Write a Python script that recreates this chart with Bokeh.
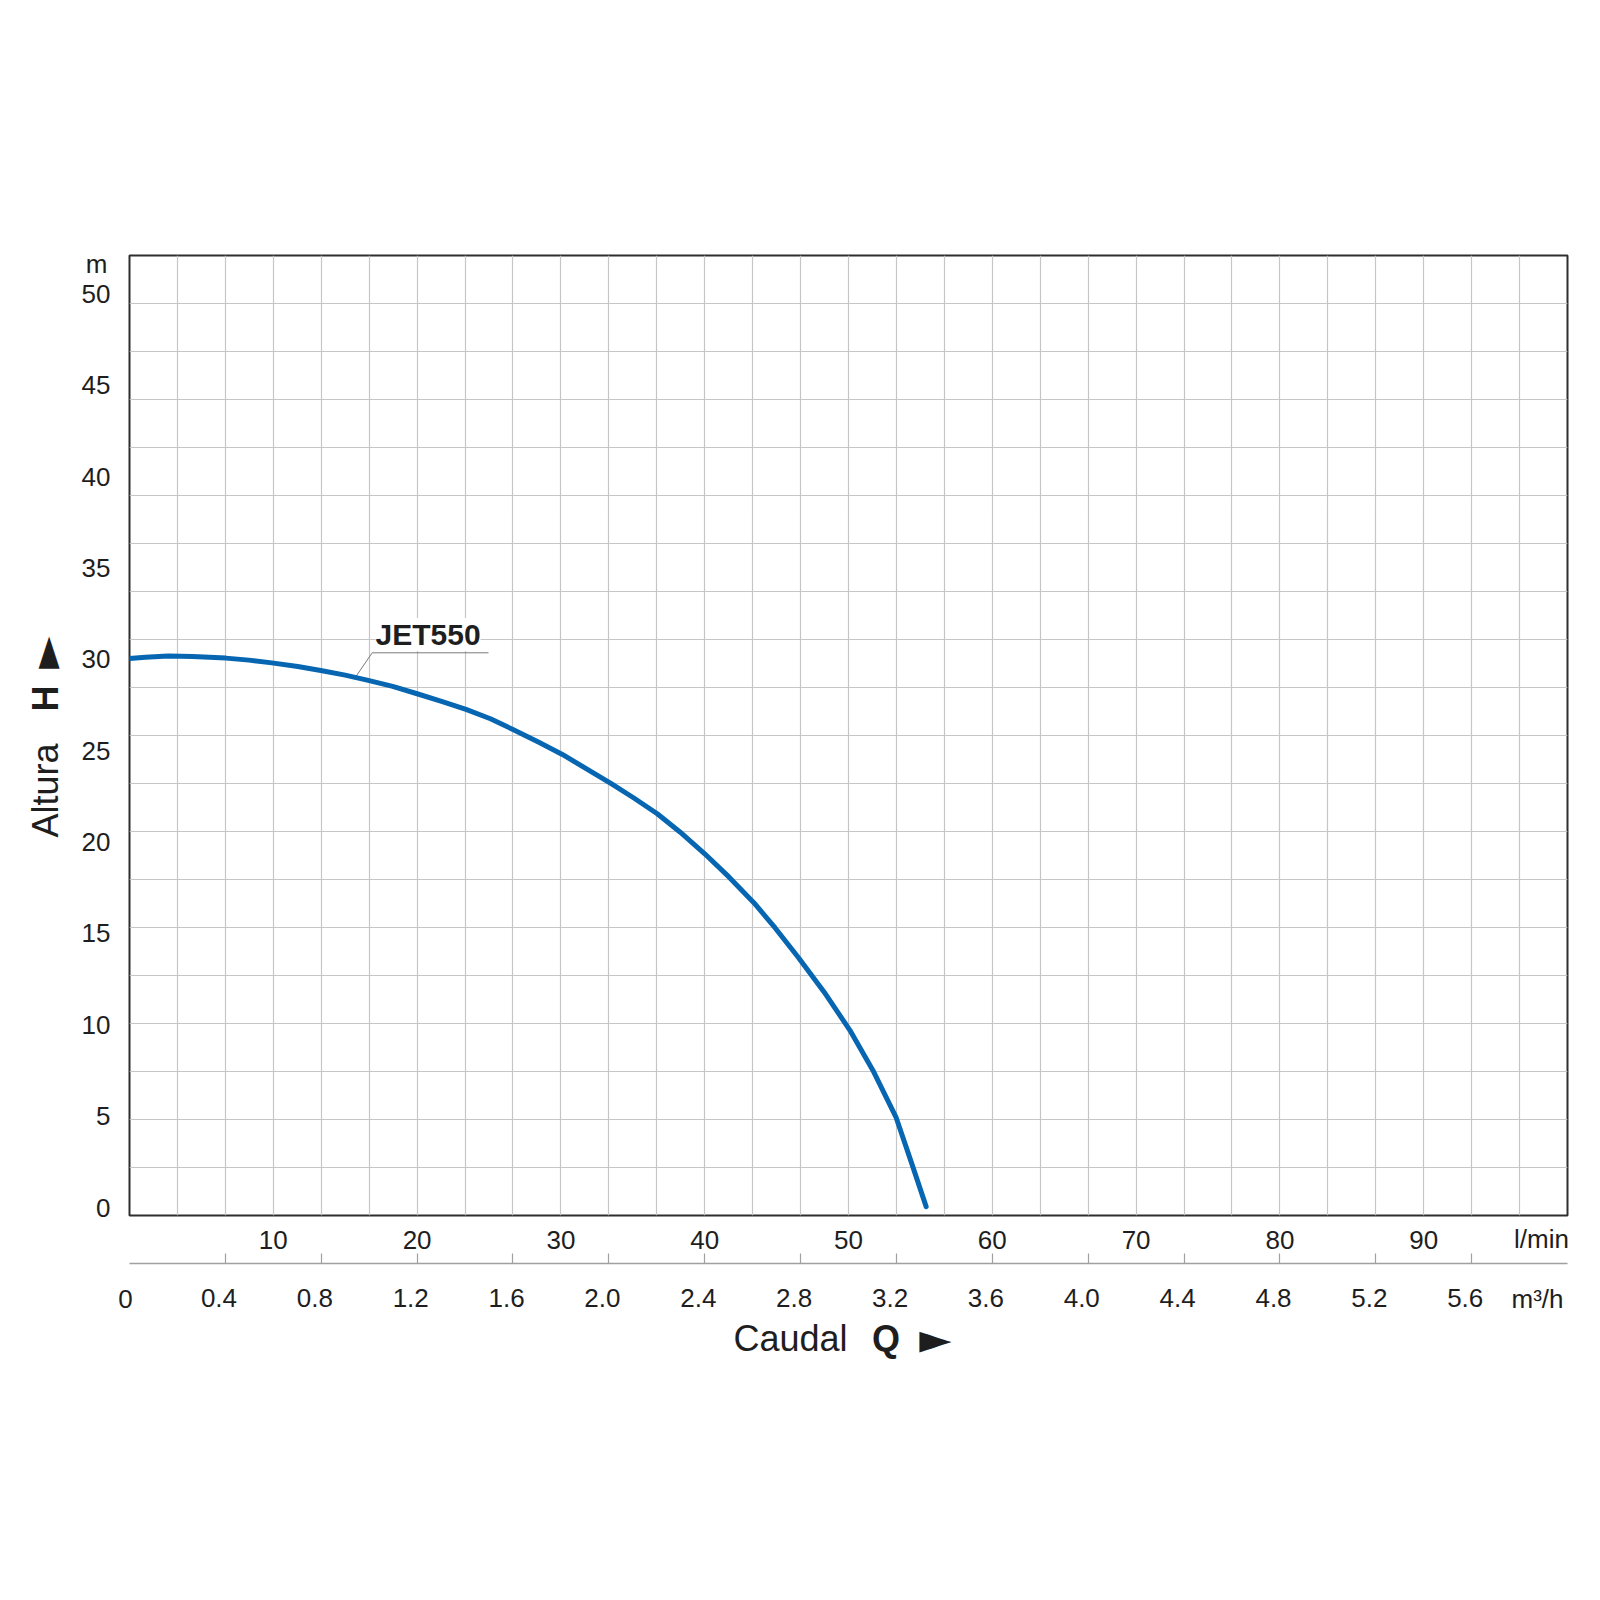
import numpy as np
from bokeh.plotting import figure
from bokeh.models import (Range1d, LinearAxis, FixedTicker, SingleIntervalTicker,
                          Grid, Label, NumeralTickFormatter)
from bokeh.embed import file_html
from bokeh.resources import INLINE

# ---------------- data ----------------
curve_name = "JET550"
flow_lpm = [0, 1.1, 2.7, 4.4, 6.7, 8.3, 9.9, 11.7, 13.3, 15.0, 16.6, 18.3, 20.0, 21.7,
            23.4, 25.1, 26.7, 28.5, 30.1, 33.5, 35.1, 36.7, 38.3, 40.0, 41.7, 43.4,
            44.9, 46.5, 48.3, 50.1, 51.7, 53.3, 54.4, 55.4]
head_m = [30.05, 30.12, 30.18, 30.16, 30.07, 29.96, 29.81, 29.61, 29.39, 29.14, 28.85,
          28.52, 28.12, 27.70, 27.26, 26.75, 26.15, 25.45, 24.8, 23.2, 22.4, 21.55,
          20.54, 19.36, 18.08, 16.7, 15.3, 13.7, 11.8, 9.7, 7.5, 4.95, 2.4, 0.05]

head_ticks = [0, 5, 10, 15, 20, 25, 30, 35, 40, 45, 50]
lpm_ticks = [10, 20, 30, 40, 50, 60, 70, 80, 90]
m3h_ticks = [0.4, 0.8, 1.2, 1.6, 2.0, 2.4, 2.8, 3.2, 3.6, 4.0, 4.4, 4.8, 5.2, 5.6]

# ---------------- layout helpers (page pixels -> data) ----------------
FONT = "Liberation Sans"
TXT = "#1e1e1e"
FRAME_L, FRAME_T, FRAME_W, FRAME_H = 129, 255, 1438, 960
XS = FRAME_W / 100.0          # px per l/min
Y0 = 1207.0                   # page y of H = 0
YS = 18.27                    # px per metre
M3H_LABEL_SHIFT = 6.4 * 6.0 / FRAME_W   # m3/h labels sit ~6px left of their ticks


def dx(px):
    return (px - FRAME_L) / XS


def dy(py):
    return (Y0 - py) / YS


p = figure(frame_width=FRAME_W, frame_height=FRAME_H,
           min_border_left=FRAME_L, min_border_top=FRAME_T,
           min_border_right=25, min_border_bottom=375,
           x_range=Range1d(0, 100), y_range=Range1d(dy(FRAME_T + FRAME_H), dy(FRAME_T)),
           x_axis_type=None, y_axis_type=None,
           output_backend="svg", toolbar_location=None)
p.background_fill_color = "white"
p.border_fill_color = "white"
p.outline_line_color = "#2e2e2e"
p.outline_line_width = 2

p.extra_x_ranges = {"gx": Range1d(0, 30), "m3h": Range1d(0, 6),
                    "m3h_lab": Range1d(M3H_LABEL_SHIFT, 6 + M3H_LABEL_SHIFT)}
p.extra_y_ranges = {"gy": Range1d(0, 20)}

p.add_layout(Grid(dimension=0, ticker=SingleIntervalTicker(interval=1), x_range_name="gx",
                  grid_line_color="#c6c6c6", grid_line_width=1.2))
p.add_layout(Grid(dimension=1, ticker=SingleIntervalTicker(interval=1), y_range_name="gy",
                  grid_line_color="#c6c6c6", grid_line_width=1.2))

common = dict(major_tick_line_color=None, minor_tick_line_color=None,
              major_tick_in=0, major_tick_out=0, minor_tick_in=0, minor_tick_out=0,
              major_label_text_font=FONT, major_label_text_font_size="26px",
              major_label_text_color=TXT)

yax = LinearAxis(ticker=FixedTicker(ticks=head_ticks), axis_line_color=None,
                 major_label_standoff=19, **common)
p.add_layout(yax, "left")

xax = LinearAxis(ticker=FixedTicker(ticks=lpm_ticks), axis_line_color=None,
                 major_label_standoff=15, axis_label=" ", axis_label_text_font_size="8px",
                 axis_label_standoff=0, **common)
p.add_layout(xax, "below")

# m3/h scale: line + ticks
mx_line = LinearAxis(x_range_name="m3h", ticker=FixedTicker(ticks=m3h_ticks),
                     axis_line_color="#a0a0a0", axis_line_width=1.5,
                     major_tick_line_color="#a0a0a0", major_tick_line_width=1.2,
                     major_tick_in=10, major_tick_out=0,
                     minor_tick_line_color=None, minor_tick_in=0, minor_tick_out=0,
                     major_label_standoff=0, major_label_text_font_size="0px",
                     major_label_text_color=None)
p.add_layout(mx_line, "below")

# m3/h scale: labels
mx_lab = LinearAxis(x_range_name="m3h_lab", ticker=FixedTicker(ticks=m3h_ticks),
                    formatter=NumeralTickFormatter(format="0.0"),
                    axis_line_color=None, major_label_standoff=25, **common)
p.add_layout(mx_lab, "below")

# ---------------- curve + label ----------------
anchor_q = 15.7
anchor_h = float(np.interp(anchor_q, flow_lpm, head_m))
p.line([anchor_q, dx(371.7), dx(488)], [anchor_h, dy(652.3), dy(652.3)],
       line_color="#7a7a7a", line_width=1)
p.line(flow_lpm, head_m, line_color="#0766b1", line_width=5, line_cap="round",
       line_join="round")

p.add_layout(Label(x=dx(375), y=dy(634), text=curve_name, text_font=FONT,
                   text_font_style="bold", text_font_size="30px", text_color=TXT,
                   text_align="left", text_baseline="middle",
                   background_fill_color="white", level="underlay"))


# ---------------- unit labels & titles (side panels, so they are not clipped) ----------------
def lab(side, x, y, text, size="26px", style="normal", align="center", angle=0.0, font=FONT):
    p.add_layout(Label(x=dx(x), y=dy(y), text=text, text_font=font, text_font_size=size,
                       text_font_style=style, text_color=TXT, text_align=align,
                       text_baseline="middle", angle=angle), side)


lab("above", 107, 263, "m", align="right")
lab("above", 45, 790, "Altura", size="36px", angle=np.pi / 2)
lab("above", 45, 698, "H", size="36px", style="bold", angle=np.pi / 2)
lab("above", 45, 652, "►", size="42px", angle=np.pi / 2, font="DejaVu Sans")

lab("below", 125, 1298, "0")
lab("below", 1541, 1238, "l/min")
lab("below", 1537, 1298, "m³/h")
lab("below", 790, 1338, "Caudal", size="36px")
lab("below", 885.5, 1338, "Q", size="36px", style="bold")
lab("below", 935, 1338, "►", size="42px", font="DejaVu Sans")

open("out.html", "w").write(file_html(p, INLINE))
